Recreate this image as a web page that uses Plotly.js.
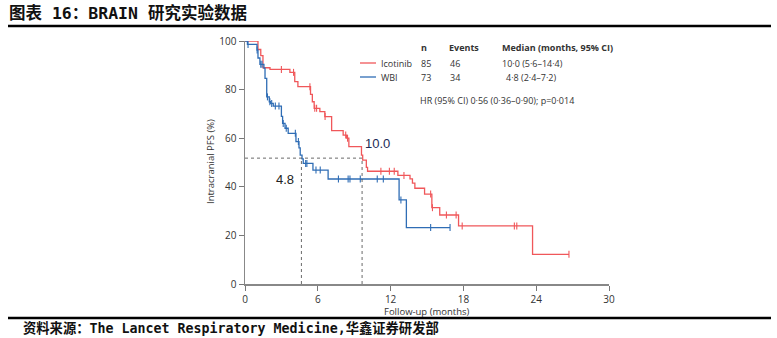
<!DOCTYPE html>
<html>
<head>
<meta charset="utf-8">
<script src="https://cdn.plot.ly/plotly-3.0.1.min.js"></script>
<style>
html,body{margin:0;padding:0;background:#fff;}
#chart{width:777px;height:338px;}
</style>
</head>
<body>
<div id="chart"></div>
<script>
// ---- data ----
const icoTime = [0, 1.07, 1.3, 1.48, 2.06, 3.7, 4.1, 4.36, 5.4, 5.55, 5.7, 6.17, 6.58, 7.14, 8.09, 8.37, 8.56, 9.6, 9.7, 10.0, 10.1, 12.6, 13.6, 13.8, 14.0, 14.8, 15.4, 16.05, 17.6, 23.7, 26.7];
const icoSurv = [100, 96.5, 94, 89, 88.3, 87.1, 83.3, 81.2, 78, 75, 72.3, 70.9, 68.9, 63.1, 61.3, 60, 56.5, 53, 51, 48, 46.4, 44.7, 43.3, 41.5, 39.4, 37, 31.4, 28.4, 23.9, 12.2, 12.2];
const icoCensor = [3.0, 4.0, 5.35, 5.75, 5.9, 6.6, 8.3, 8.45, 11.2, 11.9, 12.3, 13.1, 15.3, 15.45, 16.6, 17.4, 17.9, 22.2, 22.4, 26.7];

const wbiTime = [0, 0.2, 0.99, 1.07, 1.23, 1.56, 1.65, 1.79, 2.0, 2.1, 2.33, 3.0, 3.1, 3.3, 3.56, 4.2, 4.45, 4.55, 4.7, 4.8, 5.6, 6.85, 12.7, 13.3, 16.9];
const wbiSurv = [100, 98.6, 96.3, 93, 90.4, 88.8, 84.6, 77, 75, 74.3, 73.2, 69, 66.1, 64.1, 62, 58.6, 56, 53, 51.5, 49.6, 46.9, 43.2, 34.6, 23.2, 23.2];
const wbiCensor = [0.25, 1.0, 1.3, 1.4, 1.85, 2.05, 2.2, 2.5, 2.8, 3.15, 3.4, 4.15, 4.4, 5.0, 5.1, 5.85, 6.2, 7.7, 8.5, 8.65, 9.5, 10.9, 11.4, 12.85, 15.3, 16.9];

const medianTimes = [4.65, 9.65];   // WBI, Icotinib (drawn positions)
const medianLevel = 51.8;
const medianLabels = ['4.8', '10.0'];

const xTicks = [0, 6, 12, 18, 24, 30];
const yTicks = [0, 20, 40, 60, 80, 100];

const groups = ['Icotinib', 'WBI'];
const nVals = ['85', '73'];
const events = ['46', '34'];
const medians = ['10·0 (5·6–14·4)', '4·8 (2·4–7·2)'];
const hrText = 'HR (95% CI) 0·56 (0·36–0·90); p=0·014';

const titleText = '图表 16：BRAIN 研究实验数据';
const sourceText = '资料来源：The Lancet Respiratory Medicine,华鑫证券研发部';

// ---- helpers ----
function stepAt(times, surv, t){
  let v = surv[0];
  for (let i=0;i<times.length;i++){ if (times[i] <= t) v = surv[i]; }
  return v;
}
const RED = '#f0575a';
const BLUE = '#2f6db5';

const traces = [
  {x: icoTime, y: icoSurv, mode:'lines', line:{shape:'hv', color:RED, width:1.3}, cliponaxis:false},
  {x: icoCensor, y: icoCensor.map(t=>stepAt(icoTime, icoSurv, t)), mode:'markers',
   marker:{symbol:'line-ns-open', size:5, color:RED, line:{color:RED, width:1.1}}, cliponaxis:false},
  {x: wbiTime, y: wbiSurv, mode:'lines', line:{shape:'hv', color:BLUE, width:1.3}, cliponaxis:false},
  {x: wbiCensor, y: wbiCensor.map(t=>stepAt(wbiTime, wbiSurv, t)), mode:'markers',
   marker:{symbol:'line-ns-open', size:5, color:BLUE, line:{color:BLUE, width:1.1}}, cliponaxis:false},
  // median reference lines
  {x: [0, medianTimes[1]], y: [medianLevel, medianLevel], mode:'lines', line:{color:'#444', width:0.8, dash:'dot'}},
  {x: [medianTimes[0], medianTimes[0]], y: [0, medianLevel], mode:'lines', line:{color:'#444', width:0.8, dash:'dot'}},
  {x: [medianTimes[1], medianTimes[1]], y: [0, medianLevel], mode:'lines', line:{color:'#444', width:0.8, dash:'dot'}}
];

// plot area: x 245..609 px, y 41..284 px
const L=245, R=609, T=41, B=284;
const px = v => (v - L)/(R - L);
const py = v => (B - v)/(B - T);

const txtFont = {family:'Open Sans, Noto Sans, sans-serif', size:9, color:'#333'};
const ann = [];
function addText(x, y, text, opts){
  ann.push(Object.assign({xref:'paper', yref:'paper', x:px(x), y:py(y), text:text, showarrow:false,
    xanchor:'left', yanchor:'middle', font:txtFont}, opts||{}));
}
// table header
addText(419, 48, '<b>n</b>');
addText(447, 48, '<b>Events</b>');
addText(500, 48, '<b>Median (months, 95% CI)</b>');
const rowsY = [63, 77];
for (let i=0;i<2;i++){
  addText(379, rowsY[i], groups[i]);
  addText(419, rowsY[i], nVals[i]);
  addText(448, rowsY[i], events[i]);
  addText(i===0?500:504, rowsY[i], medians[i]);
}
addText(418, 100, hrText);
// median labels
ann.push({xref:'x', yref:'y', x:medianTimes[1]+0.05, y:medianLevel+2.2, text:medianLabels[1], showarrow:false,
  xanchor:'left', yanchor:'bottom', font:{family:'Liberation Sans, Arial, sans-serif', size:13, color:'#1c2a55'}});
ann.push({xref:'x', yref:'y', x:medianTimes[0]-0.45, y:medianLevel-5, text:medianLabels[0], showarrow:false,
  xanchor:'right', yanchor:'top', font:{family:'Liberation Sans, Arial, sans-serif', size:13, color:'#222'}});
// axis titles
ann.push({xref:'paper', yref:'paper', x:px(210), y:py(162), text:'Intracranial PFS (%)', textangle:-90, showarrow:false,
  xanchor:'center', yanchor:'middle', font:{family:'Open Sans, Noto Sans, sans-serif', size:9.5, color:'#333'}});
ann.push({xref:'paper', yref:'paper', x:px(427), y:py(311), text:'Follow-up (months)', showarrow:false,
  xanchor:'center', yanchor:'middle', font:{family:'Open Sans, Noto Sans, sans-serif', size:9.5, color:'#333'}});
// figure title and source
ann.push({xref:'paper', yref:'paper', x:px(7), y:py(13), text:'<b>'+titleText+'</b>', showarrow:false,
  xanchor:'left', yanchor:'middle', font:{family:'DejaVu Sans Mono, Noto Sans CJK SC, monospace', size:16.5, color:'#111'}});
ann.push({xref:'paper', yref:'paper', x:px(21), y:py(328), text:'<b>'+sourceText+'</b>', showarrow:false,
  xanchor:'left', yanchor:'middle', font:{family:'DejaVu Sans Mono, Noto Sans CJK SC, monospace', size:13.3, color:'#111'}});

const shapes = [
  {type:'line', xref:'paper', yref:'paper', x0:px(8), x1:px(771), y0:py(26), y1:py(26), line:{color:'#000', width:2.5}},
  {type:'line', xref:'paper', yref:'paper', x0:px(8), x1:px(771), y0:py(318), y1:py(318), line:{color:'#000', width:2.5}},
  // legend keys
  {type:'line', xref:'paper', yref:'paper', x0:px(360), x1:px(376), y0:py(63), y1:py(63), line:{color:RED, width:1.3}},
  {type:'line', xref:'paper', yref:'paper', x0:px(360), x1:px(376), y0:py(77), y1:py(77), line:{color:BLUE, width:1.3}}
];

const axisFont = {family:'Open Sans, Noto Sans, sans-serif', size:10, color:'#333'};
const layout = {
  width:777, height:338,
  margin:{l:L, r:777-R, t:T, b:338-B, pad:0},
  paper_bgcolor:'#fff', plot_bgcolor:'#fff',
  showlegend:false,
  xaxis:{range:[0,30], tickvals:xTicks, ticktext:xTicks.map(String), ticks:'outside', ticklen:5, tickcolor:'#777',
         showline:true, linecolor:'#888', linewidth:1.5, showgrid:false, zeroline:false, tickfont:axisFont, fixedrange:true},
  yaxis:{range:[0,100], tickvals:yTicks, ticktext:yTicks.map(String), ticks:'outside', ticklen:5, tickcolor:'#777',
         showline:true, linecolor:'#888', linewidth:1.5, showgrid:false, zeroline:false, tickfont:axisFont, fixedrange:true},
  annotations: ann,
  shapes: shapes
};
Plotly.newPlot('chart', traces, layout, {displayModeBar:false, staticPlot:true});
</script>
</body>
</html>
